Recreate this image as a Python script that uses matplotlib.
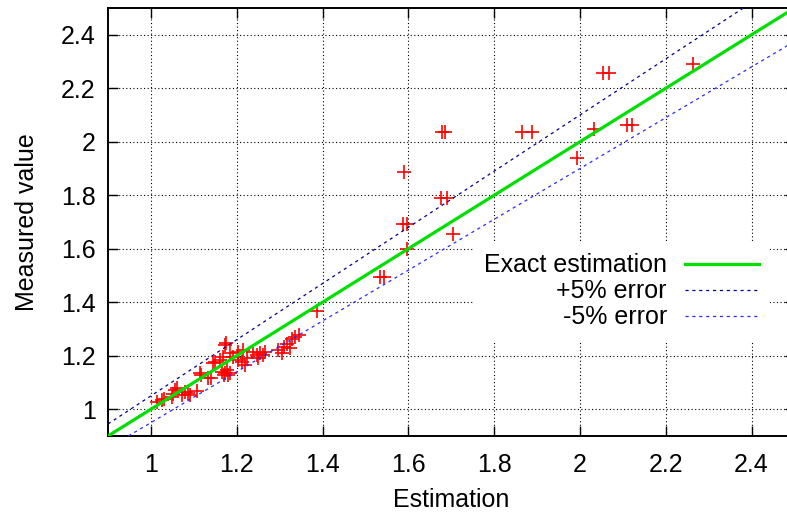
import matplotlib
matplotlib.use('Agg')
import matplotlib.pyplot as plt
import numpy as np

# estimation vs. measured value
est = [1.014, 1.026, 1.030, 1.049, 1.052, 1.056, 1.061, 1.072, 1.079, 1.086,
       1.091, 1.107, 1.114, 1.116, 1.133, 1.140, 1.145, 1.150, 1.161, 1.166,
       1.170, 1.172, 1.172, 1.176, 1.177, 1.180, 1.184, 1.168, 1.184, 1.191,
       1.203, 1.203, 1.212, 1.215, 1.219, 1.224, 1.238, 1.247, 1.250, 1.255,
       1.261, 1.265, 1.296, 1.305, 1.310, 1.317, 1.324, 1.330, 1.336, 1.345,
       1.387, 1.535, 1.543, 1.588, 1.596, 1.590, 1.597, 1.676, 1.690, 1.678,
       1.686, 1.704, 1.865, 1.888, 1.993, 2.033, 2.054, 2.068, 2.110, 2.122,
       2.263]
meas = [1.028, 1.034, 1.037, 1.047, 1.056, 1.072, 1.079, 1.052, 1.063, 1.060,
        1.052, 1.068, 1.135, 1.127, 1.116, 1.118, 1.172, 1.178, 1.185, 1.138,
        1.128, 1.135, 1.239, 1.248, 1.146, 1.128, 1.135, 1.196, 1.209, 1.194,
        1.213, 1.183, 1.176, 1.222, 1.164, 1.191, 1.213, 1.203, 1.191, 1.212,
        1.202, 1.215, 1.221, 1.209, 1.232, 1.245, 1.228, 1.262, 1.270, 1.276,
        1.368, 1.494, 1.494, 1.692, 1.692, 1.888, 1.600, 1.789, 1.789, 2.036,
        2.036, 1.657, 2.036, 2.036, 1.940, 2.047, 2.258, 2.258, 2.063, 2.063,
        2.292]

ticks = [1, 1.2, 1.4, 1.6, 1.8, 2, 2.2, 2.4]
tick_labels = ['1', '1.2', '1.4', '1.6', '1.8', '2', '2.2', '2.4']

plt.rcParams['font.family'] = ['Liberation Sans', 'DejaVu Sans']
fs = 18

W, H = 787, 517
fig = plt.figure(figsize=(W / 100, H / 100), dpi=100)
ax = fig.add_axes([108 / W, (H - 436) / H, 686.5 / W, 428 / H])

ax.plot(est, meas, linestyle='none', marker='+', color='red',
        markersize=9.5, markeredgewidth=1.2, zorder=3)

ax.axline((1, 1), slope=1, color='#00e000', lw=2.3, label='Exact estimation', zorder=4)
ax.axline((1, 1.05), slope=1.05, color='#000090', lw=0.9, dashes=(2.5, 3),
          label='+5% error', zorder=4)
ax.axline((1, 0.95), slope=0.95, color='#2a2aff', lw=0.9, dashes=(2.5, 3),
          label='-5% error', zorder=4)

ax.set_xlim(0.9, 2.5)
ax.set_ylim(0.9, 2.5)
ax.set_xticks(ticks)
ax.set_xticklabels(tick_labels)
ax.set_yticks(ticks)
ax.set_yticklabels(tick_labels)
ax.tick_params(direction='in', top=True, right=True, length=7, width=1,
               labelsize=fs)
ax.tick_params(axis='x', pad=12)
ax.tick_params(axis='y', pad=9)
ax.grid(True, color='black', linestyle=(0, (1, 2.2)), lw=0.8, zorder=0)
for sp in ax.spines.values():
    sp.set_linewidth(1.4)

ax.set_xlabel('Estimation', fontsize=fs, labelpad=8)
ax.set_ylabel('Measured value', fontsize=fs, labelpad=16)

leg = ax.legend(loc='upper right', bbox_to_anchor=(770 / W, 1 - 242 / H),
                bbox_transform=fig.transFigure, markerfirst=False,
                fontsize=fs, handlelength=2.95, handletextpad=0.72,
                labelspacing=0.08, borderpad=0.45, borderaxespad=0,
                frameon=True, fancybox=False)
leg.get_frame().set_facecolor('white')
leg.get_frame().set_edgecolor('none')
leg.get_frame().set_alpha(1)
leg.set_zorder(10)

fig.savefig('out.png', dpi=100)
